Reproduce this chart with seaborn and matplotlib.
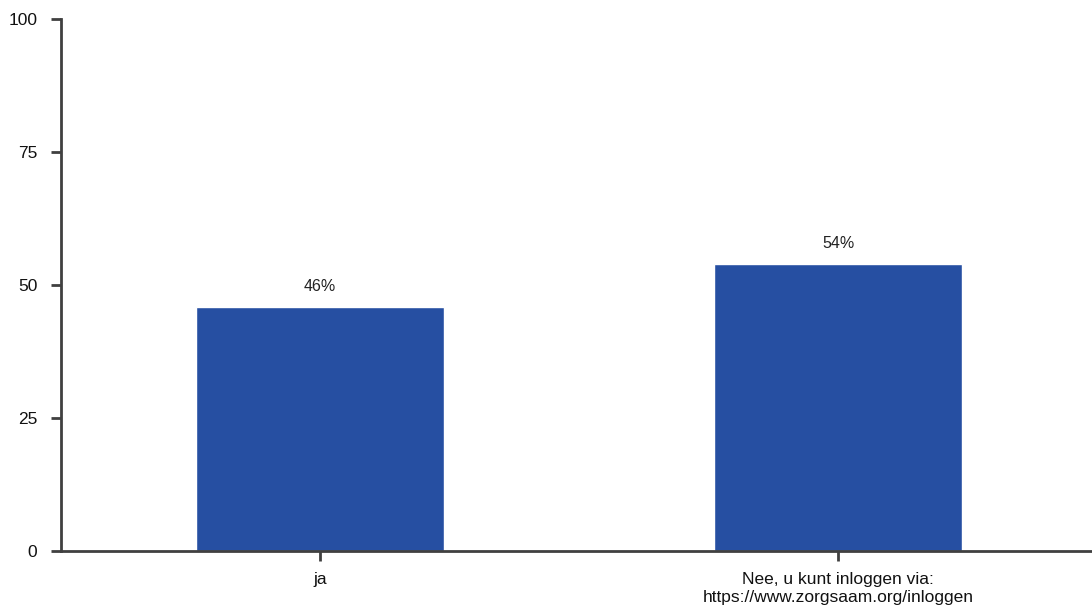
import matplotlib
matplotlib.use("Agg")
import matplotlib.pyplot as plt
import seaborn as sns
import pandas as pd

categories = ["ja", "Nee, u kunt inloggen via:\nhttps://www.zorgsaam.org/inloggen"]
values = [46.0, 54.0]
labels = ["46%", "54%"]
yticks = [0, 25, 50, 75, 100]

sns.set_theme(style="white")
plt.rcParams['font.family'] = ['Liberation Sans', 'DejaVu Sans']

fig = plt.figure(figsize=(10.92, 6.12), dpi=100)
ax = fig.add_axes([0.0559, 0.0989, 0.9441, 0.870])

df = pd.DataFrame({"cat": categories, "val": values})
sns.barplot(data=df, x="cat", y="val", color="#264FA2", saturation=1, width=0.48, ax=ax)

for i, (v, t) in enumerate(zip(values, labels)):
    ax.text(i, v + 2.4, t, ha="center", va="bottom", fontsize=11.5, color="#222222")

ax.set_ylim(0, 100)
ax.set_xlim(-0.5, 1.49)
ax.set_yticks(yticks)
ax.set_yticklabels([str(t) for t in yticks])
ax.set_xlabel("")
ax.set_ylabel("")
for s in ["top", "right"]:
    ax.spines[s].set_visible(False)
for s in ["left", "bottom"]:
    ax.spines[s].set_color("#404040")
    ax.spines[s].set_linewidth(2)
ax.tick_params(axis="both", which="both", length=7, width=2, color="#404040",
               labelsize=12.5, labelcolor="#111111", direction="out", left=True, bottom=True, pad=8)
ax.tick_params(axis="y", pad=10)

fig.savefig("out.png", dpi=100)
